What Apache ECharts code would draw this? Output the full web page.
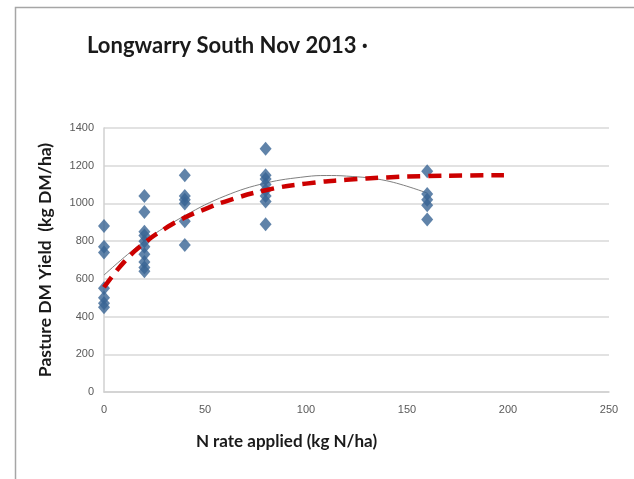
<!DOCTYPE html>
<html>
<head>
<meta charset="utf-8">
<script src="https://cdn.jsdelivr.net/npm/echarts@6/dist/echarts.min.js"></script>
<style>
  html, body { margin: 0; padding: 0; background: #fff; }
  #chart { width: 634px; height: 479px; }
</style>
</head>
<body>
<div id="chart"></div>
<script>
// Observed yields per N rate (kg N/ha -> kg DM/ha)
const rates = [0, 20, 40, 80, 160];
const yieldsAt0 = [880, 770, 740, 550, 500, 470, 450];
const yieldsAt20 = [1040, 955, 850, 830, 800, 770, 730, 690, 660, 640];
const yieldsAt40 = [1150, 1040, 1020, 1000, 905, 780];
const yieldsAt80 = [1290, 1150, 1130, 1100, 1070, 1040, 1010, 890];
const yieldsAt160 = [1170, 1050, 1020, 990, 915];

// Polynomial trend (grey) and response curve (red dashed)
const trendX = [0, 20, 40, 60, 80, 100, 110, 120, 140, 160];
const trendY = [620, 800, 935, 1040, 1108, 1142, 1148, 1145, 1120, 1055];
const responseX = [0, 10, 20, 30, 40, 50, 60, 80, 100, 120, 140, 160, 180, 198];
const responseY = [555, 690, 790, 865, 925, 970, 1010, 1070, 1105, 1125, 1138, 1145, 1148, 1150];

const xTicks = [0, 50, 100, 150, 200, 250];
const yTicks = [0, 200, 400, 600, 800, 1000, 1200, 1400];

const groups = [yieldsAt0, yieldsAt20, yieldsAt40, yieldsAt80, yieldsAt160];
const scatterData = [];
groups.forEach((g, i) => g.forEach(v => scatterData.push([rates[i], v])));

const chart = echarts.init(document.getElementById('chart'));
chart.setOption({
  animation: false,
  backgroundColor: '#fff',
  graphic: [{
    type: 'rect',
    shape: { x: 15.5, y: 7.5, width: 700, height: 600 },
    style: { fill: 'none', stroke: '#a6a6a6', lineWidth: 1.5 },
    silent: true
  }],
  title: {
    text: 'Longwarry South Nov 2013 ·',
    left: 82,
    top: 30,
    textStyle: { fontFamily: 'Lato', fontWeight: 'bold', fontSize: 22, color: '#1a1a1a' }
  },
  grid: { left: 104, right: 25, top: 128, bottom: 87 },
  xAxis: {
    type: 'value',
    min: 0, max: 250, interval: 50,
    name: 'N rate applied (kg N/ha)',
    nameLocation: 'middle',
    nameGap: 41,
    nameTextStyle: {
      fontFamily: 'Lato', fontWeight: 'bold', fontSize: 17, color: '#1a1a1a',
      padding: [0, 140, 0, 0]
    },
    axisLine: { show: true, lineStyle: { color: '#d0d0d0', width: 1.5 } },
    axisTick: { show: false },
    splitLine: { show: false },
    axisLabel: {
      margin: 12,
      fontFamily: 'Liberation Sans', fontSize: 11, color: '#595959',
      formatter: v => xTicks.includes(v) ? String(v) : ''
    }
  },
  yAxis: {
    type: 'value',
    min: 0, max: 1400, interval: 200,
    name: 'Pasture DM Yield  (kg DM/ha)',
    nameLocation: 'middle',
    nameGap: 50,
    nameTextStyle: { fontFamily: 'Lato', fontWeight: 'bold', fontSize: 17.5, color: '#1a1a1a' },
    axisLine: { show: true, lineStyle: { color: '#d0d0d0', width: 1.5 } },
    axisTick: { show: false },
    splitLine: { show: true, lineStyle: { color: '#d9d9d9', width: 1.5 } },
    axisLabel: {
      margin: 10,
      fontFamily: 'Liberation Sans', fontSize: 11, color: '#595959',
      formatter: v => yTicks.includes(v) ? String(v) : ''
    }
  },
  series: [
    {
      type: 'line',
      data: trendX.map((x, i) => [x, trendY[i]]),
      smooth: 0.4,
      showSymbol: false,
      lineStyle: { color: '#7f7f7f', width: 1 },
      z: 3
    },
    {
      type: 'scatter',
      data: scatterData,
      symbol: 'diamond',
      symbolSize: [12, 14],
      itemStyle: { color: '#386494' },
      z: 4
    },
    {
      type: 'line',
      data: responseX.map((x, i) => [x, responseY[i]]),
      smooth: true,
      showSymbol: false,
      lineStyle: { color: '#cc0000', width: 4.5, type: [13, 8] },
      z: 5
    }
  ]
});
</script>
</body>
</html>
